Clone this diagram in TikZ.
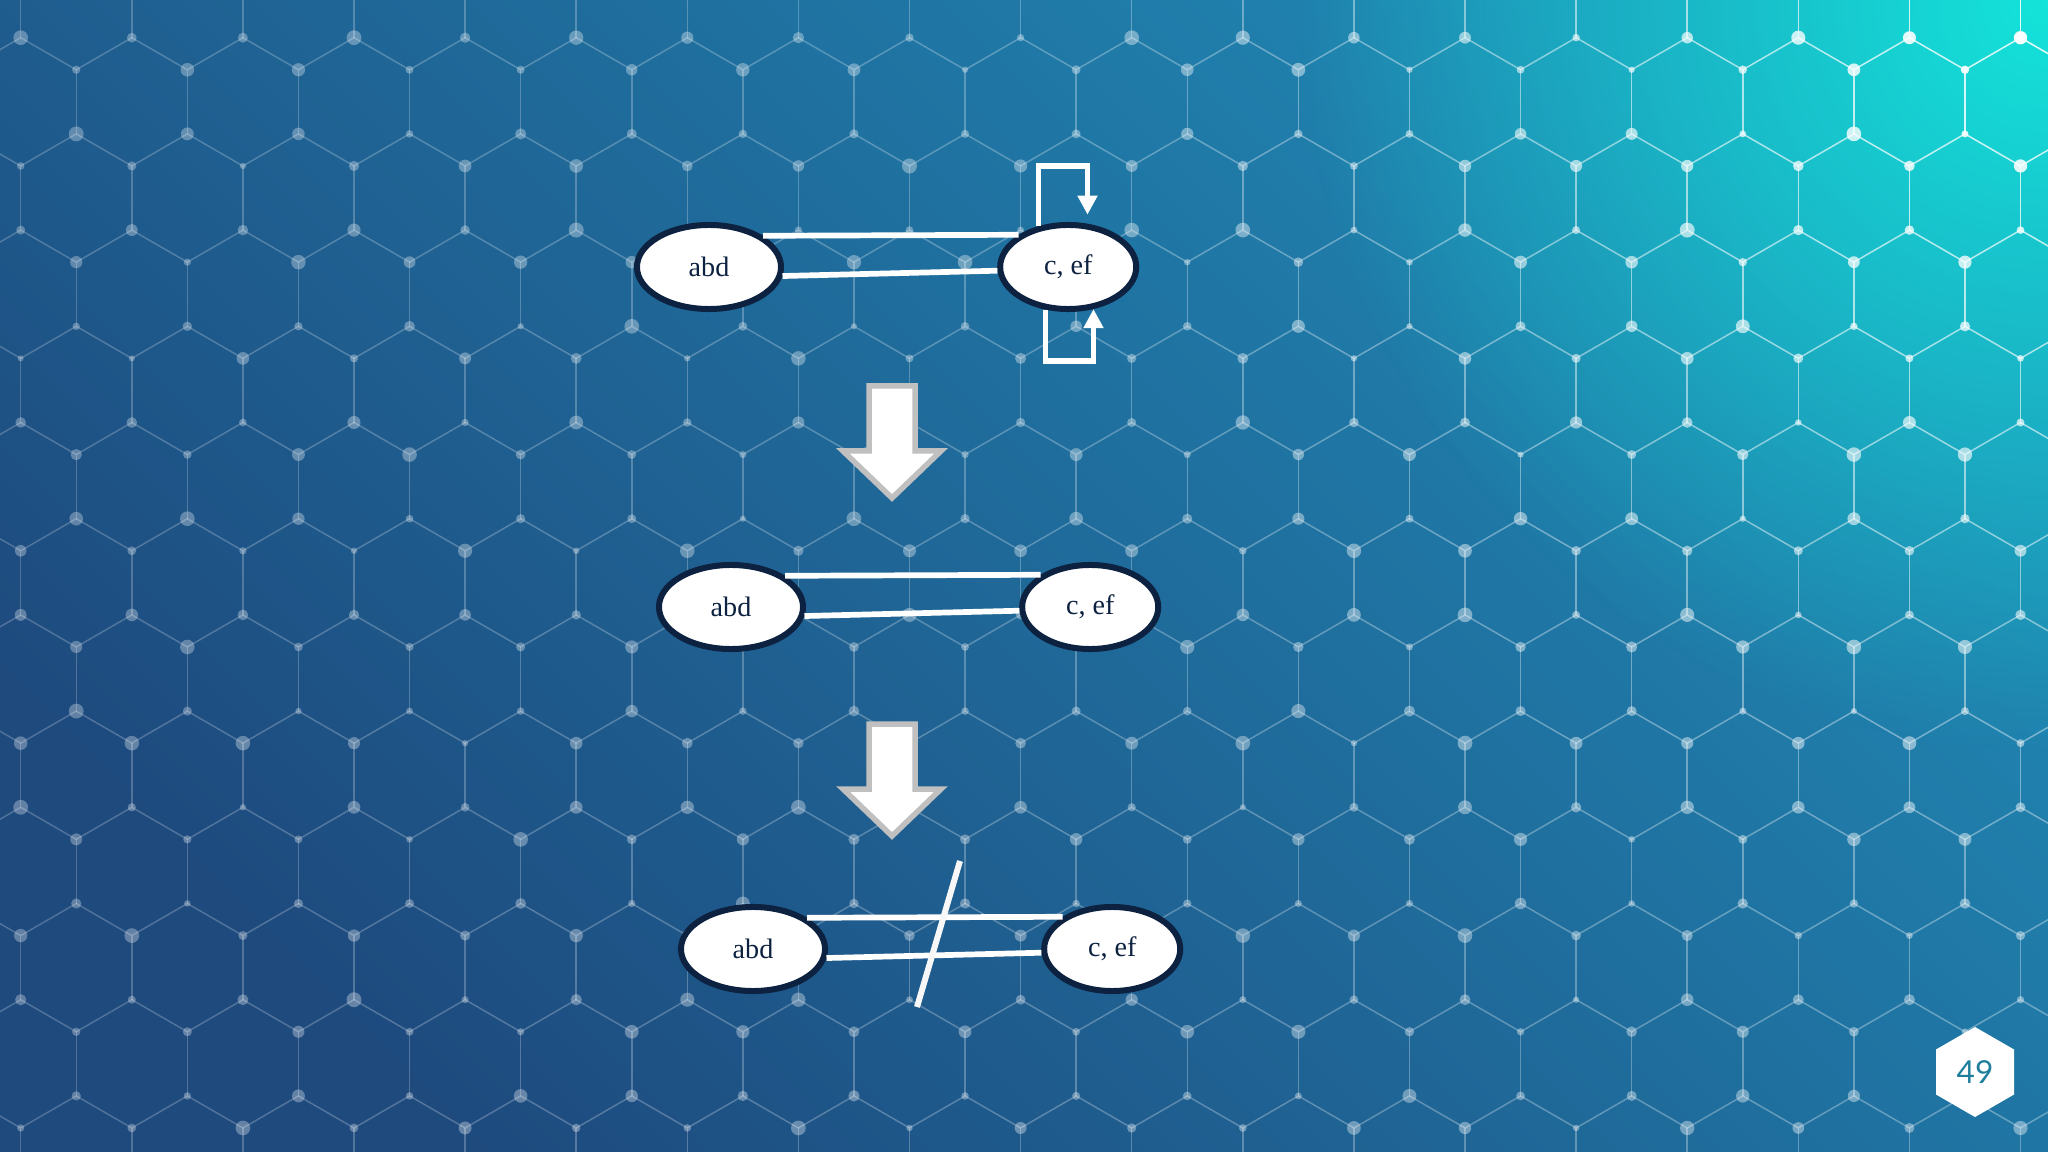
\documentclass[tikz,border=0pt]{standalone}
\usepackage{fontspec}
\setmainfont{Liberation Serif}
\newfontfamily\badgefont{Lato}
\usepackage{tikz}
\usetikzlibrary{arrows.meta,positioning,shapes.geometric,fadings}
\definecolor{bgdark}{RGB}{30,74,126}
\definecolor{bgmid}{RGB}{26,112,156}
\definecolor{bglight}{RGB}{32,136,180}
\definecolor{bgglow}{RGB}{20,228,218}
\definecolor{inkblue}{RGB}{13,34,64}
\definecolor{arrowgrey}{RGB}{192,192,192}
\definecolor{badgeteal}{RGB}{31,126,156}
\tikzfading[name=glowfade,inner color=transparent!0,outer color=transparent!100]

\begin{document}
\begin{tikzpicture}[x=0.01cm,y=-0.01cm,set/.style={ellipse,draw=inkblue,line width=0.06cm,fill=white,text=inkblue,inner sep=0pt,minimum height=0.84cm,font=\fontsize{8}{9}\selectfont},link/.style={draw=white,line width=0.057cm},selfloop/.style={link,-{Triangle[width=0.19cm,length=0.19cm]}},bigarrow/.style={draw=arrowgrey,fill=white,line width=0.055cm,line join=miter},cut/.style={draw=white!94!gray,line width=0.06cm},hexline/.style={white,line width=0.015cm},badge/.style={regular polygon,regular polygon sides=6,shape border rotate=30,minimum size=0.9cm,inner sep=0pt,fill=white,text=badgeteal,font=\badgefont\fontsize{9}{10}\selectfont}]
\useasboundingbox (0,0) rectangle (2048,1152);
\shade[left color=bgdark,middle color=bgmid,right color=bglight,shading angle=135] (0,0) rectangle (2048,1152);
\fill[bgglow,path fading=glowfade] (2048,0) circle[radius=7.5cm];
\begin{scope}
\clip (0,0) rectangle (2048,1152);
\pgfmathsetseed{49}
\foreach \n in {-1,...,12}{
  \pgfmathsetmacro\yu{37.7+96.2*\n}
  \pgfmathsetmacro\yl{\yu+32.07}
  \foreach \m in {-2,...,38}{
    \pgfmathsetmacro\xa{20.7+55.55*\m}
    \pgfmathsetmacro\xb{\xa+55.55}
    \pgfmathtruncatemacro\isup{mod(\m+\n+42,2)==0 ? 1 : 0}
    \pgfmathsetmacro\ya{\isup==1 ? \yu : \yl}
    \pgfmathsetmacro\yb{\isup==1 ? \yl : \yu}
    \pgfmathsetmacro\glowt{max(0,1-veclen((2048-(\xa))/100,(\ya)/100)/12)}
    \pgfmathsetmacro\op{0.22+0.1*(\xa)/2048+0.62*\glowt*\glowt}
    \pgfmathsetmacro\dop{min(1,\op+0.08)}
    \pgfmathsetmacro\rr{0.03+0.045*rnd}
    \draw[hexline,opacity=\op] (\xa,\ya) -- (\xb,\yb);
    \ifnum\isup=0 \draw[hexline,opacity=\op] (\xa,\yl) -- (\xa,\yl+64.14);\fi
    \fill[white,opacity=\dop] (\xa,\ya) circle[radius=\rr cm];
  }
}
\end{scope}

\node[set,minimum width=1.44cm] (abd1) at (709,267) {abd};
\node[set,minimum width=1.36cm,right=2.13cm of abd1] (cef1) {c, ef};
\draw[link] (abd1.30) -- (cef1.147);
\draw[link] (abd1.-7) -- (cef1.183);
\draw[selfloop,shorten >=0.09cm] (cef1.126) -- ++(0,-60) -| (cef1.66);
\draw[selfloop] (cef1.242) -- ++(0,51) -| (cef1.-59);

\coordinate (down1) at (892,386);
\draw[bigarrow] (down1) +(-23,0) -- +(23,0) -- +(23,65) -- +(49,65) -- +(0,112) -- +(-49,65) -- +(-23,65) -- cycle;

\node[set,minimum width=1.44cm] (abd2) at (731,607) {abd};
\node[set,minimum width=1.36cm,right=2.13cm of abd2] (cef2) {c, ef};
\draw[link] (abd2.30) -- (cef2.147);
\draw[link] (abd2.-7) -- (cef2.183);

\coordinate (down2) at (892,724);
\draw[bigarrow] (down2) +(-23,0) -- +(23,0) -- +(23,65) -- +(49,65) -- +(0,112) -- +(-49,65) -- +(-23,65) -- cycle;

\node[set,minimum width=1.44cm] (abd3) at (753,949) {abd};
\node[set,minimum width=1.36cm,right=2.13cm of abd3] (cef3) {c, ef};
\draw[link] (abd3.30) -- (cef3.147);
\draw[link] (abd3.-7) -- (cef3.183);
\coordinate (cuttop) at (960,861);
\coordinate (cutbot) at (917,1007);
\draw[cut] (cuttop) -- (cutbot);

\node[badge] (page) at (1975,1072) {49};
\end{tikzpicture}
\end{document}
